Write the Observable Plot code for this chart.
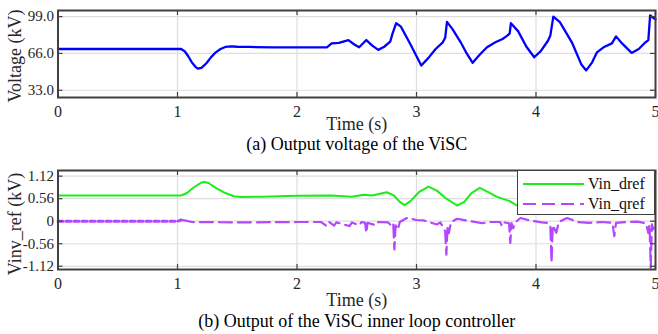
<!DOCTYPE html>
<html>
<head>
<meta charset="utf-8">
<script src="https://cdn.jsdelivr.net/npm/d3@7"></script>
<script src="https://cdn.jsdelivr.net/npm/@observablehq/plot@0.6"></script>
<style>
  html, body { margin: 0; padding: 0; background: #fff; }
  #wrap { position: relative; width: 658px; height: 334px; font-family: "Liberation Serif", "Times New Roman", serif; }
  #wrap svg { position: absolute; left: 0; font-family: "Liberation Serif", "Times New Roman", serif; }
  #legend { position: absolute; left: 517px; top: 170px; width: 136px; height: 43px; background: #fff; border: 1.5px solid #404040; font-size: 16px; color: #111; }
  #legend .row { position: absolute; left: 0; height: 20px; }
  #legend svg { position: absolute; left: 0; top: 0; }
  #legend span { position: absolute; left: 70px; top: 0; white-space: nowrap; line-height: 20px; }
</style>
</head>
<body>
<div id="wrap"></div>
<script>
// ---------------- data ----------------
// (a) Output voltage of the ViSC
const timeA = [0, 1.03, 1.06, 1.09, 1.12, 1.15, 1.17, 1.20, 1.24, 1.28, 1.32, 1.36, 1.40, 1.45, 1.50, 1.60, 1.80, 2.00, 2.25, 2.29, 2.35, 2.43, 2.48, 2.52, 2.58, 2.63, 2.68, 2.73, 2.78, 2.80, 2.83, 2.87, 2.95, 3.04, 3.10, 3.16, 3.22, 3.24, 3.255, 3.30, 3.37, 3.42, 3.47, 3.53, 3.59, 3.66, 3.72, 3.76, 3.78, 3.79, 3.85, 3.92, 3.985, 4.04, 4.10, 4.12, 4.145, 4.20, 4.30, 4.38, 4.42, 4.47, 4.51, 4.565, 4.635, 4.67, 4.72, 4.80, 4.86, 4.91, 4.94, 4.955, 4.975, 5.0];
const voltage = [70, 70, 68, 63.5, 58, 54, 52.3, 53, 57, 62.5, 67, 70, 71.8, 72.3, 72, 71.8, 71.5, 71.5, 71.5, 75, 75.5, 78, 74, 71.5, 78, 73, 69.2, 72, 76.5, 84, 93.1, 90, 74, 55.2, 62, 70, 76, 80, 94.3, 88, 76, 66, 57.6, 65, 71.5, 76, 79, 82, 84, 93.1, 86, 72, 62.6, 68, 77.4, 82, 99, 94, 76, 56, 50.8, 58, 67, 71.5, 75, 81.3, 75, 66.5, 70, 75.4, 78, 100.2, 98.5, 96.6];

// (b) Output of the ViSC inner loop controller
const timeD = [0, 1.03, 1.08, 1.14, 1.20, 1.225, 1.26, 1.32, 1.40, 1.47, 1.53, 1.70, 2.00, 2.28, 2.46, 2.56, 2.63, 2.75, 2.81, 2.86, 2.90, 2.95, 3.02, 3.10, 3.17, 3.24, 3.34, 3.40, 3.46, 3.53, 3.60, 3.67, 3.78, 3.84, 3.90, 4.00, 4.10, 4.20, 4.30, 4.40, 4.50, 4.60, 4.70, 4.80, 4.90, 5.0];
const vinDref = [0.64, 0.64, 0.70, 0.85, 0.96, 0.975, 0.95, 0.83, 0.70, 0.62, 0.60, 0.61, 0.63, 0.64, 0.61, 0.66, 0.64, 0.72, 0.64, 0.48, 0.40, 0.50, 0.72, 0.86, 0.76, 0.58, 0.39, 0.48, 0.70, 0.83, 0.72, 0.61, 0.50, 0.39, 0.45, 0.75, 0.62, 0.55, 0.72, 0.58, 0.62, 0.66, 0.60, 0.64, 0.62, 0.66];

const timeQ = [0, 1.0, 1.03, 1.06, 1.12, 1.5, 2.0, 2.2, 2.25, 2.27, 2.31, 2.33, 2.44, 2.46, 2.52, 2.54, 2.57, 2.58, 2.59, 2.66, 2.68, 2.76, 2.79, 2.805, 2.815, 2.825, 2.845, 2.86, 2.92, 3.0, 3.06, 3.17, 3.2, 3.24, 3.25, 3.26, 3.27, 3.29, 3.34, 3.45, 3.55, 3.6, 3.7, 3.715, 3.73, 3.775, 3.785, 3.795, 3.81, 3.83, 3.87, 3.95, 4.05, 4.096, 4.12, 4.13, 4.14, 4.17, 4.19, 4.26, 4.35, 4.45, 4.55, 4.64, 4.655, 4.67, 4.75, 4.85, 4.92, 4.94, 4.95, 4.96, 4.97, 4.98, 5.0];
const vinQref = [0, 0, 0.03, 0.02, -0.02, -0.03, -0.02, -0.02, -0.12, -0.02, -0.11, -0.03, -0.12, -0.03, -0.10, -0.02, -0.04, -0.29, -0.04, -0.10, -0.02, -0.03, -0.11, -0.05, -0.70, -0.10, -0.21, -0.02, 0.08, 0.03, 0.02, -0.08, -0.03, -0.25, -0.83, -0.10, -0.30, -0.02, 0.06, 0, -0.05, -0.02, -0.02, -0.12, -0.03, -0.05, -0.54, -0.05, -0.17, -0.02, 0.08, 0.02, -0.03, -0.04, -0.10, -1.03, -0.10, -0.29, -0.02, 0.08, -0.02, -0.04, -0.02, -0.04, -0.37, -0.04, -0.02, -0.01, -0.05, -0.29, -0.08, -1.16, -0.08, -0.20, -0.07];

const xTicks = [0, 1, 2, 3, 4, 5];
const yTicksA = [33, 66, 99];
const yTicksB = [-1.12, -0.56, 0, 0.56, 1.12];

const xLabel = "Time (s)";
const yLabelA = "Voltage (kV)";
const yLabelB = "Vinv_ref (kV)";
const captionA = "(a) Output voltage of the ViSC";
const captionB = "(b) Output of the ViSC inner loop controller";
const seriesNames = ["Vin_dref", "Vin_qref"];

// ---------------- build ----------------
const W = 658;
const FONT = "'Liberation Serif', 'Times New Roman', serif";
const GRID = "#dedede";
const FRAME = "#404040";
const TXT = "#262626";
const BLUE = "#0000ff", GREEN = "#19ee19", PURPLE = "#b446ff";

const dataA = timeA.map((t, i) => ({t, v: voltage[i]}));
const dataD = timeD.map((t, i) => ({t, v: vinDref[i]}));
const dataQ = timeQ.map((t, i) => ({t, v: vinQref[i]}));
const dataQearly = dataQ.filter(d => d.t <= 1.03);
const dataQlate = dataQ.filter(d => d.t >= 1.03);

function inwardTicks(xDom, yDom, yTicks, pxH, pxW) {
  const ys = yDom[1] - yDom[0], xs = xDom[1] - xDom[0];
  const fy = 5 / pxH * ys, fx = 5 / pxW * xs;
  return [
    Plot.ruleX(xTicks, {x: d => d, y1: yDom[0], y2: yDom[0] + fy, stroke: FRAME, strokeWidth: 1.2}),
    Plot.ruleX(xTicks, {x: d => d, y1: yDom[1] - fy, y2: yDom[1], stroke: FRAME, strokeWidth: 1.2}),
    Plot.ruleY(yTicks, {y: d => d, x1: xDom[0], x2: xDom[0] + fx, stroke: FRAME, strokeWidth: 1.2}),
    Plot.ruleY(yTicks, {y: d => d, x1: xDom[1] - fx, x2: xDom[1], stroke: FRAME, strokeWidth: 1.2})
  ];
}

function panel({height, mt, mb, yDom, yTicks, yFmt, lines, yLabel, caption, timeDy, capDy, yLabDy}) {
  const xDom = [0, 5];
  const ml = 57.5, mr = 3;
  return Plot.plot({
    width: W, height,
    marginLeft: ml, marginRight: mr, marginTop: mt, marginBottom: mb,
    style: {fontFamily: FONT, background: "transparent", overflow: "visible"},
    x: {domain: xDom, ticks: xTicks},
    y: {domain: yDom, ticks: yTicks},
    marks: [
      Plot.gridX(xTicks, {stroke: GRID, strokeOpacity: 1, strokeWidth: 1.2}),
      Plot.gridY(yTicks, {stroke: GRID, strokeOpacity: 1, strokeWidth: 1.2}),
      ...lines,
      ...inwardTicks(xDom, yDom, yTicks, height - mt - mb, W - ml - mr),
      Plot.frame({stroke: FRAME, strokeWidth: 2}),
      Plot.axisX(xTicks, {tickSize: 0, tickPadding: 8, fontSize: 16, fontFamily: FONT, fill: TXT, label: null, tickFormat: d => String(d)}),
      Plot.axisY(yTicks, {tickSize: 0, tickPadding: 4, fontSize: 15, fontFamily: FONT, fill: TXT, label: null, tickFormat: yFmt}),
      Plot.text([xLabel], {text: d => d, frameAnchor: "bottom", textAnchor: "middle", lineAnchor: "bottom", dy: timeDy, fontSize: 18, fontFamily: FONT, fill: TXT}),
      Plot.text([caption], {text: d => d, frameAnchor: "bottom", textAnchor: "middle", lineAnchor: "bottom", dy: capDy, fontSize: 18, fontFamily: FONT, fill: "#000"}),
      Plot.text([yLabel], {text: d => d, frameAnchor: "left", textAnchor: "middle", lineAnchor: "middle", rotate: -90, dx: -43, dy: yLabDy, fontSize: 18, fontFamily: FONT, fill: TXT})
    ]
  });
}

const plotA = panel({
  height: 160, mt: 10, mb: 63, yDom: [26.5, 104.5], yTicks: yTicksA,
  yFmt: d => d.toFixed(1),
  lines: [Plot.line(dataA, {x: "t", y: "v", stroke: BLUE, strokeWidth: 2.3})],
  yLabel: yLabelA, caption: captionA, timeDy: 32, capDy: 52, yLabDy: 2
});

const plotB = panel({
  height: 174, mt: 10, mb: 65, yDom: [-1.2, 1.26], yTicks: yTicksB,
  yFmt: d => d === 0 ? "0" : d.toFixed(2),
  lines: [
    Plot.line(dataD, {x: "t", y: "v", stroke: GREEN, strokeWidth: 2}),
    Plot.line(dataQearly, {x: "t", y: "v", stroke: PURPLE, strokeWidth: 3, strokeDasharray: "5,3"}),
    Plot.line(dataQlate, {x: "t", y: "v", stroke: PURPLE, strokeWidth: 2.2, strokeDasharray: "13,6"})
  ],
  yLabel: yLabelB, caption: captionB, timeDy: 36, capDy: 57.5, yLabDy: 4
});

const wrap = document.getElementById("wrap");
plotA.style.top = "0px";
plotB.style.top = "160px";
wrap.appendChild(plotA);
wrap.appendChild(plotB);

// legend
const legend = document.createElement("div");
legend.id = "legend";
const styles = [{stroke: GREEN, dash: null}, {stroke: PURPLE, dash: "13,6"}];
seriesNames.forEach((name, i) => {
  const row = document.createElement("div");
  row.className = "row";
  row.style.top = (i === 0 ? 3 : 23) + "px";
  row.style.width = "136px";
  const ns = "http://www.w3.org/2000/svg";
  const svg = document.createElementNS(ns, "svg");
  svg.setAttribute("width", 70); svg.setAttribute("height", 20);
  svg.style.position = "absolute";
  const ln = document.createElementNS(ns, "line");
  ln.setAttribute("x1", 5); ln.setAttribute("x2", 66);
  ln.setAttribute("y1", 10); ln.setAttribute("y2", 10);
  ln.setAttribute("stroke", styles[i].stroke);
  ln.setAttribute("stroke-width", 2);
  if (styles[i].dash) ln.setAttribute("stroke-dasharray", styles[i].dash);
  svg.appendChild(ln);
  const sp = document.createElement("span");
  sp.textContent = name;
  row.appendChild(svg);
  row.appendChild(sp);
  legend.appendChild(row);
});
wrap.appendChild(legend);
</script>
</body>
</html>
